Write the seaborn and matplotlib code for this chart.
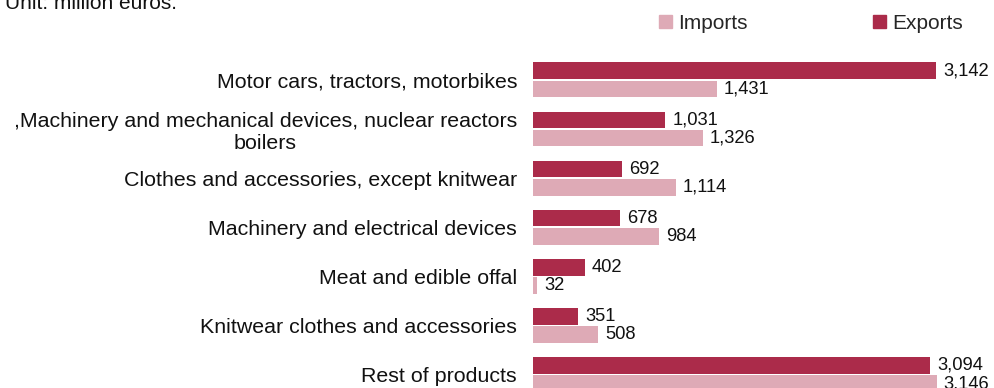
import matplotlib
matplotlib.use("Agg")
import matplotlib.pyplot as plt
import matplotlib.patches as mpatches
import seaborn as sns
import pandas as pd

categories = [
    "Motor cars, tractors, motorbikes",
    ",Machinery and mechanical devices, nuclear reactors\nboilers",
    "Clothes and accessories, except knitwear",
    "Machinery and electrical devices",
    "Meat and edible offal",
    "Knitwear clothes and accessories",
    "Rest of products",
]
exports = [3142, 1031, 692, 678, 402, 351, 3094]
imports = [1431, 1326, 1114, 984, 32, 508, 3146]
series = ["Exports", "Imports"]
colors = {"Exports": "#AB2B4A", "Imports": "#DEAAB6"}

df = pd.DataFrame({
    "category": categories * 2,
    "flow": ["Exports"] * len(categories) + ["Imports"] * len(categories),
    "value": exports + imports,
})

sns.set_theme(style="white")
plt.rcParams["font.family"] = ["Liberation Sans", "DejaVu Sans"]

W, H = 994, 388
fig = plt.figure(figsize=(W / 100, H / 100), dpi=100)
ax = fig.add_axes([533 / W, 0, 461 / W, 1])

sns.barplot(
    data=df, y="category", x="value", hue="flow", hue_order=series,
    order=categories, palette=colors, orient="h",
    width=0.74, gap=0.08, saturation=1, linewidth=0, ax=ax, legend=False,
)

ax.set_xlim(0, 3593)
ax.set_ylim(6.275, -1.627)
for c in ax.containers:
    ax.bar_label(c, fmt="{:,.0f}", padding=5, fontsize=13.2, color="#111111")

sns.despine(ax=ax, left=True, bottom=True)
ax.set_xticks([])
ax.set_xlabel("")
ax.set_ylabel("")
ax.tick_params(axis="y", length=0, pad=11.5, labelsize=15.4, labelcolor="#111111")
for lbl in ax.get_yticklabels():
    lbl.set_multialignment("center")

handles = [mpatches.Patch(color=colors[s], label=s) for s in ["Imports", "Exports"]]
fig.legend(
    handles=handles, loc="center left", bbox_to_anchor=(659 / W, 1 - 23.5 / H),
    ncol=2, frameon=False, fontsize=15, handlelength=0.63, handleheight=0.63,
    handletextpad=0.3, columnspacing=6.0, borderpad=0, borderaxespad=0,
)

fig.text(5 / W, 1 - 9 / H, "Unit: million euros.", fontsize=15, color="#111111",
         ha="left", va="baseline")

fig.savefig("out.png", dpi=100)
